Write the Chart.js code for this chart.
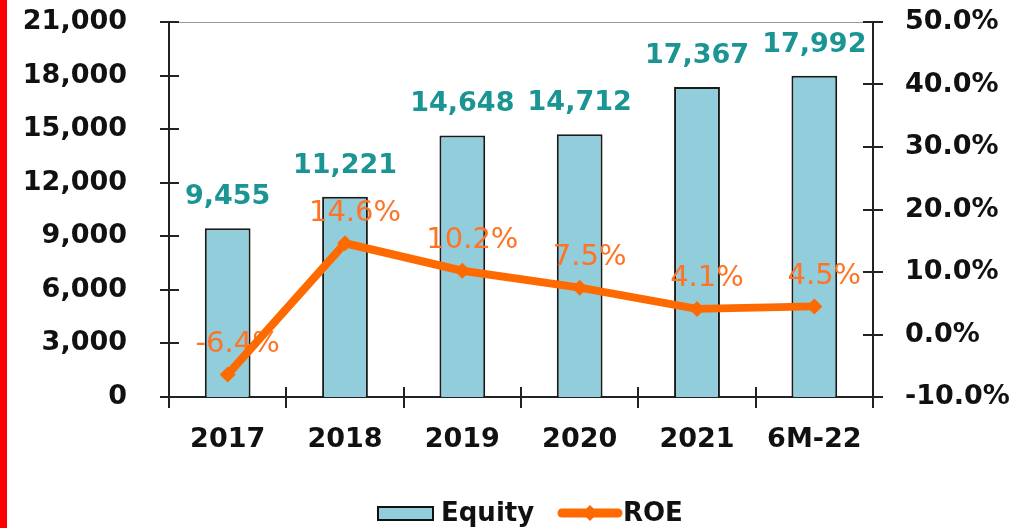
<!DOCTYPE html>
<html>
<head>
<meta charset="utf-8">
<script src="https://cdn.jsdelivr.net/npm/chart.js@4/dist/chart.umd.min.js"></script>
<style>
  html, body { margin: 0; padding: 0; background: #fff; }
  #wrap { width: 1029px; height: 528px; }
</style>
</head>
<body>
<div id="wrap"><canvas id="equityChart" width="1029" height="528"></canvas></div>
<script>
// 数据
const categories = ['2017', '2018', '2019', '2020', '2021', '6M-22'];
const equityValues = [9455, 11221, 14648, 14712, 17367, 17992];
const roeValues = [-6.4, 14.6, 10.2, 7.5, 4.1, 4.5];

const BAR_COLOR = '#92cddc';
const LINE_COLOR = '#ff6a00';
const BAR_LABEL_COLOR = '#1b9494';
const LINE_LABEL_COLOR = '#ff7424';
const FONT = '"DejaVu Sans", Verdana, sans-serif';

// 轴刻度、顶边、标签、图例的绘制
const decorPlugin = {
    id: 'decor',
    beforeDraw(chart) {
        const ctx = chart.ctx;
        ctx.save();
        ctx.fillStyle = '#ff0000';
        ctx.fillRect(0, 0, 7, chart.height);
        ctx.restore();
    },
    afterDatasetDraw(chart, args) {
        const ctx = chart.ctx;
        const meta = args.meta;
        if (meta.type !== 'bar') return;
        ctx.save();
        ctx.textAlign = 'center';
        ctx.textBaseline = 'middle';
        ctx.font = 'bold 27px ' + FONT;
        ctx.fillStyle = BAR_LABEL_COLOR;
        meta.data.forEach((bar, i) => {
            ctx.fillText(equityValues[i].toLocaleString('en-US'), bar.x, bar.y - 31);
        });
        const lineMeta = chart.getDatasetMeta(1);
        ctx.font = '29px ' + FONT;
        ctx.fillStyle = LINE_LABEL_COLOR;
        lineMeta.data.forEach((pt, i) => {
            ctx.fillText(roeValues[i].toFixed(1) + '%', pt.x + 10, pt.y - 30);
        });
        ctx.restore();
    },
    afterDraw(chart) {
        const ctx = chart.ctx;
        const area = chart.chartArea;
        const yL = chart.scales.y;
        const yR = chart.scales.y1;
        const x = chart.scales.x;
        ctx.save();
        // 顶边灰线
        ctx.strokeStyle = '#9a9a9a';
        ctx.lineWidth = 1;
        ctx.beginPath();
        ctx.moveTo(area.left, area.top + 0.5);
        ctx.lineTo(area.right, area.top + 0.5);
        ctx.stroke();

        ctx.strokeStyle = '#222';
        ctx.lineWidth = 2;
        ctx.beginPath();
        yL.ticks.forEach(t => {
            const py = Math.round(yL.getPixelForValue(t.value));
            ctx.moveTo(area.left - 9, py);
            ctx.lineTo(area.left + 10, py);
        });
        yR.ticks.forEach(t => {
            const py = Math.round(yR.getPixelForValue(t.value));
            ctx.moveTo(area.right - 10, py);
            ctx.lineTo(area.right + 10, py);
        });
        const bounds = [area.left];
        for (let i = 0; i < categories.length - 1; i++) {
            bounds.push((x.getPixelForValue(i) + x.getPixelForValue(i + 1)) / 2);
        }
        bounds.push(area.right);
        bounds.forEach(bx => {
            const px = Math.round(bx);
            ctx.moveTo(px, area.bottom - 10);
            ctx.lineTo(px, area.bottom + 11);
        });
        ctx.stroke();

        // 图例
        const ly = 513;
        ctx.fillStyle = BAR_COLOR;
        ctx.fillRect(378, ly - 6, 55, 13);
        ctx.strokeStyle = '#111';
        ctx.lineWidth = 2;
        ctx.strokeRect(378, ly - 6, 55, 13);
        ctx.font = 'bold 26px ' + FONT;
        ctx.fillStyle = '#111';
        ctx.textAlign = 'left';
        ctx.textBaseline = 'middle';
        ctx.fillText('Equity', 441, ly + 1);

        ctx.strokeStyle = LINE_COLOR;
        ctx.lineWidth = 9;
        ctx.lineCap = 'round';
        ctx.beginPath();
        ctx.moveTo(562, ly);
        ctx.lineTo(618, ly);
        ctx.stroke();
        ctx.fillStyle = LINE_COLOR;
        ctx.beginPath();
        ctx.moveTo(590, ly - 8);
        ctx.lineTo(598, ly);
        ctx.lineTo(590, ly + 8);
        ctx.lineTo(582, ly);
        ctx.closePath();
        ctx.fill();
        ctx.fillStyle = '#111';
        ctx.fillText('ROE', 623, ly + 1);
        ctx.restore();
    }
};

function fixVertical(width) {
    return function(scale) {
        scale.width = width;
        scale.paddingTop = 0;
        scale.paddingBottom = 0;
    };
}

new Chart(document.getElementById('equityChart').getContext('2d'), {
    type: 'bar',
    data: {
        labels: categories,
        datasets: [
            {
                type: 'bar',
                label: 'Equity',
                data: equityValues,
                backgroundColor: BAR_COLOR,
                borderColor: '#1a1a1a',
                borderWidth: 2,
                barPercentage: 0.39,
                categoryPercentage: 1,
                yAxisID: 'y',
                order: 1
            },
            {
                type: 'line',
                label: 'ROE',
                data: roeValues,
                borderColor: LINE_COLOR,
                backgroundColor: LINE_COLOR,
                borderWidth: 8,
                borderJoinStyle: 'round',
                tension: 0,
                pointStyle: 'rectRot',
                pointRadius: 8,
                pointBorderWidth: 0,
                yAxisID: 'y1',
                order: 0
            }
        ]
    },
    options: {
        responsive: false,
        animation: false,
        layout: { padding: { top: 22, left: 0, right: 0, bottom: 0 } },
        plugins: {
            legend: { display: false },
            tooltip: { enabled: false }
        },
        scales: {
            x: {
                grid: { display: false },
                border: { display: true, color: '#222', width: 2 },
                ticks: {
                    color: '#111',
                    padding: 19,
                    font: { family: FONT, size: 27, weight: 'bold' }
                },
                afterFit(scale) {
                    scale.height = 131;
                    scale.paddingLeft = 0;
                    scale.paddingRight = 0;
                }
            },
            y: {
                position: 'left',
                min: 0,
                max: 21000,
                grid: { display: false },
                border: { display: true, color: '#222', width: 2 },
                ticks: {
                    stepSize: 3000,
                    color: '#111',
                    padding: 34,
                    font: { family: FONT, size: 27, weight: 'bold' },
                    callback: v => v.toLocaleString('en-US')
                },
                afterFit: fixVertical(169)
            },
            y1: {
                position: 'right',
                min: -10,
                max: 50,
                grid: { display: false },
                border: { display: true, color: '#222', width: 2 },
                ticks: {
                    stepSize: 10,
                    color: '#111',
                    padding: 24,
                    font: { family: FONT, size: 27, weight: 'bold' },
                    callback: v => v.toFixed(1) + '%'
                },
                afterFit: fixVertical(156)
            }
        }
    },
    plugins: [decorPlugin]
});
</script>
</body>
</html>
